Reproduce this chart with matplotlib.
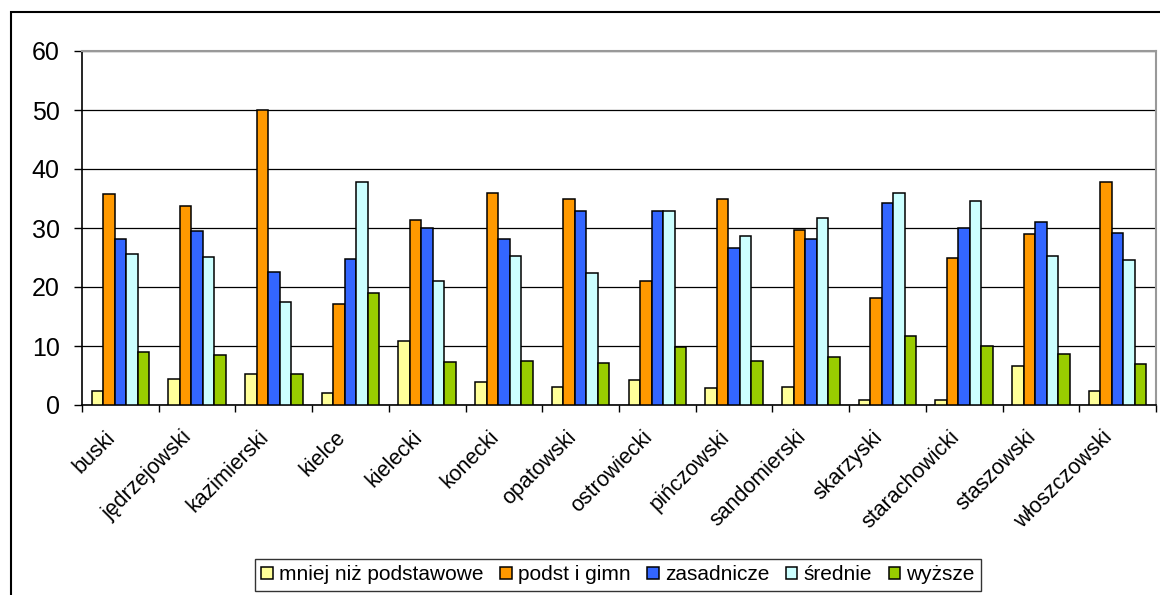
#!/usr/bin/env python3

import matplotlib.pyplot as plt
import matplotlib.transforms as mtransforms
from matplotlib.patches import Rectangle
import numpy as np

plt.rcParams['font.family'] = ['Liberation Sans', 'DejaVu Sans']

districts = ['buski', 'jędrzejowski', 'kazimierski', 'kielce', 'kielecki',
             'konecki', 'opatowski', 'ostrowiecki', 'pińczowski',
             'sandomierski', 'skarzyski', 'starachowicki', 'staszowski',
             'włoszczowski']

series_names = ['mniej niż podstawowe', 'podst i gimn', 'zasadnicze',
                'średnie', 'wyższe']

mniej = [2.3, 4.4, 5.3, 2.0, 10.9, 3.9, 3.1, 4.2, 2.8, 3.1, 0.9, 0.9, 6.6, 2.3]
podst = [35.8, 33.7, 50.0, 17.2, 31.4, 35.9, 35.0, 21.1, 35.0, 29.7, 18.1,
         25.0, 28.9, 37.8]
zasadnicze = [28.1, 29.5, 22.5, 24.8, 30.0, 28.1, 32.8, 32.8, 26.6, 28.1,
              34.2, 30.0, 31.1, 29.2]
srednie = [25.6, 25.1, 17.5, 37.8, 21.1, 25.3, 22.3, 32.8, 28.6, 31.7, 35.9,
           34.5, 25.3, 24.5]
wyzsze = [8.9, 8.4, 5.3, 18.9, 7.3, 7.5, 7.2, 9.8, 7.5, 8.1, 11.7, 10.0, 8.6,
          7.0]

colors = ['#FFFF99', '#FF9900', '#3366FF', '#CCFFFF', '#99CC00']


def main() -> None:
    fig = plt.figure(figsize=(11.6, 5.95), dpi=100)
    ax = fig.add_axes([82 / 1160, 1 - 405 / 595, 1074 / 1160, 354 / 595])

    x = np.arange(len(districts))
    width = 0.15
    data = [mniej, podst, zasadnicze, srednie, wyzsze]
    for i, (vals, name, c) in enumerate(zip(data, series_names, colors)):
        ax.bar(x + (i - 2) * width, vals, width, color=c, edgecolor='black',
               linewidth=1.1, label=name, zorder=3)

    ax.set_xlim(-0.5, len(districts) - 0.5)
    ax.set_ylim(0, 60)
    ax.set_yticks(np.arange(0, 61, 10))
    ax.yaxis.grid(True, color='black', linewidth=0.9, zorder=0)
    ax.tick_params(axis='y', labelsize=18, length=6, width=1, pad=10,
                   direction='out')

    # category ticks at group boundaries, labels at centres
    ax.set_xticks(np.arange(-0.5, len(districts), 1.0))
    ax.set_xticklabels([])
    ax.set_xticks(x, minor=True)
    ax.set_xticklabels(districts, minor=True, rotation=45, ha='right',
                       va='center', rotation_mode='anchor', fontsize=15.5)
    ax.tick_params(axis='x', which='major', length=5, width=1,
                   direction='out')
    ax.tick_params(axis='x', which='minor', length=0, pad=21)
    shift = mtransforms.ScaledTranslation(-8 / 100, 0, fig.dpi_scale_trans)
    for lbl in ax.get_xticklabels(minor=True):
        lbl.set_transform(lbl.get_transform() + shift)

    for side in ('left', 'bottom'):
        ax.spines[side].set_color('black')
        ax.spines[side].set_linewidth(1.2)
    for side in ('top', 'right'):
        ax.spines[side].set_color('#999999')
        ax.spines[side].set_linewidth(1.5)

    leg = fig.legend(loc='center', bbox_to_anchor=(618 / 1160, 1 - 575 / 595),
                     ncol=5, fontsize=15, frameon=True, fancybox=False,
                     edgecolor='black', handlelength=0.55, handleheight=0.55,
                     handletextpad=0.3, columnspacing=0.8, borderpad=0.3,
                     borderaxespad=0)
    leg.get_frame().set_linewidth(1.0)

    # outer chart border
    fig.patches.append(Rectangle((10.5 / 1160, -0.1), 1.2,
                                 1 - 11.5 / 595 + 0.1,
                                 transform=fig.transFigure, fill=False,
                                 edgecolor='black', linewidth=1.5))

    fig.savefig('out.png', dpi=100)


if __name__ == '__main__':
    main()
